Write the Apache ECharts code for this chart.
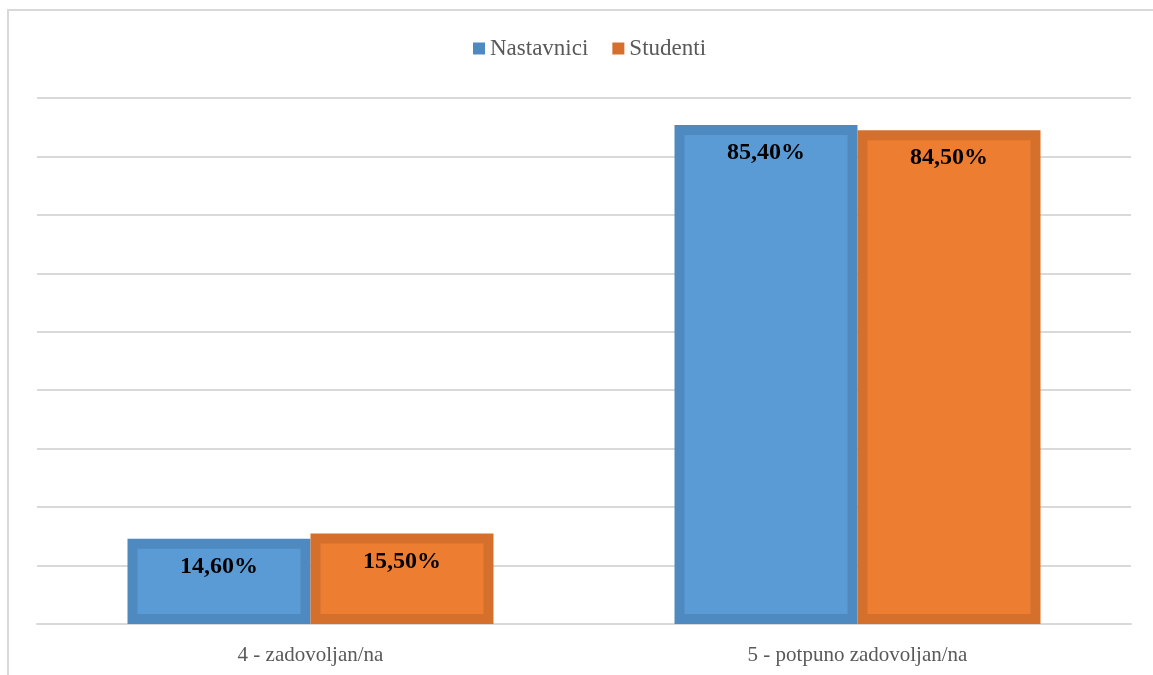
<!DOCTYPE html>
<html>
<head>
<meta charset="utf-8">
<script src="https://cdn.jsdelivr.net/npm/echarts@6/dist/echarts.min.js"></script>
<style>
  html, body { margin: 0; padding: 0; background: #fff; }
  #chart { width: 1153px; height: 675px; }
</style>
</head>
<body>
<div id="chart"></div>
<script>
const categories = ['4 - zadovoljan/na', '5 - potpuno zadovoljan/na']
const nastavnici = [14.6, 85.4]
const studenti = [15.5, 84.5]

const chart = echarts.init(document.getElementById('chart'))

const fmt = p => p.value.toFixed(2).replace('.', ',') + '%'

const labelStyle = {
  show: true,
  position: 'insideTop',
  distance: 16,
  formatter: fmt,
  fontFamily: 'Liberation Serif',
  fontWeight: 'bold',
  fontSize: 24,
  color: '#000'
}

chart.setOption({
  animation: false,
  graphic: [{
    type: 'rect',
    shape: { x: 8, y: 10, width: 1170, height: 700 },
    style: { fill: 'none', stroke: '#d9d9d9', lineWidth: 2 },
    silent: true
  }],
  legend: {
    top: 32,
    left: 468,
    itemWidth: 12,
    itemHeight: 12,
    itemGap: 24,
    icon: 'rect',
    textStyle: { fontFamily: 'Liberation Serif', fontSize: 23, color: '#595959' },
    data: [
      { name: 'Nastavnici', itemStyle: { color: '#4e89c0', borderWidth: 0 } },
      { name: 'Studenti', itemStyle: { color: '#d5702c', borderWidth: 0 } }
    ]
  },
  grid: { left: 37, right: 22, top: 98, bottom: 51, containLabel: false },
  xAxis: {
    type: 'category',
    data: categories,
    axisTick: { show: false },
    axisLine: { lineStyle: { color: '#d9d9d9', width: 2 } },
    axisLabel: { fontFamily: 'Liberation Serif', fontSize: 21, color: '#595959', margin: 21 }
  },
  yAxis: {
    type: 'value',
    min: 0,
    max: 90,
    interval: 10,
    axisLabel: { show: false },
    axisLine: { show: false },
    axisTick: { show: false },
    splitLine: { lineStyle: { color: '#d9d9d9', width: 2 } }
  },
  series: [{
    name: 'Nastavnici',
    type: 'bar',
    data: nastavnici,
    barWidth: 183,
    barGap: '0%',
    itemStyle: { color: '#5b9bd5', borderColor: '#4e89c0', borderWidth: 10 },
    label: labelStyle
  }, {
    name: 'Studenti',
    type: 'bar',
    data: studenti,
    barWidth: 183,
    itemStyle: { color: '#ed7d31', borderColor: '#d5702c', borderWidth: 10 },
    label: labelStyle
  }]
})
</script>
</body>
</html>
